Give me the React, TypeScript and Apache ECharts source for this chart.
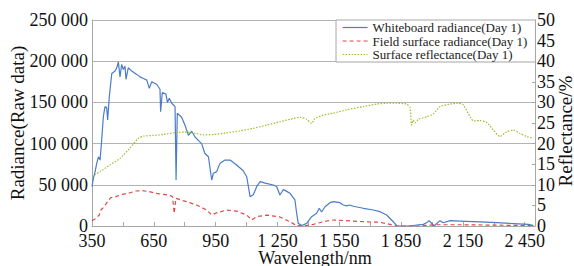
import React, { useEffect, useRef } from "react";
import * as echarts from "echarts";

const whiteWl = [350,357,365,373,381,389,397,405,413,421,426,434,446,462,470,478,486,494,502,510,515,526,543,567,583,600,616,628,640,656,664,680,683,691,709,716,725,737,753,758,764,785,801,818,834,850,866,882,898,915,931,939,955,971,995,1020,1052,1084,1101,1117,1133,1149,1166,1190,1230,1246,1262,1279,1295,1311,1335,1343,1351,1368,1392,1416,1440,1453,1464,1481,1505,1521,1553,1570,1586,1602,1618,1667,1715,1748,1780,1812,1829,1845,1893,1926,1958,1974,1986,1999,2010,2023,2039,2055,2088,2136,2233,2314,2395,2468,2492];
const whiteVal = [47700,58000,66000,76000,84000,80000,104000,132600,144800,144000,128600,157000,185000,188000,192000,199000,181000,196000,190000,194000,178000,192000,188000,184000,181000,179000,177000,167000,175000,173000,172000,166000,138700,161800,160000,150000,155000,149000,144800,55800,136800,132000,122600,110000,115000,108000,104000,100000,88000,84000,55800,64000,66000,76000,80000,80000,74000,67000,59800,35600,38000,47700,53800,52000,49800,48000,37600,44300,42000,39700,31600,15800,3200,600,3200,11300,15400,21500,17000,23400,28300,29500,28300,25500,24500,25500,24000,21500,19400,17400,13300,5200,300,0,0,1200,2000,4000,6500,3000,0,3000,6500,4000,6500,6000,5000,4000,3000,2000,500];

const fieldWl = [350,369,385,393,409,425,441,466,498,531,563,595,628,660,692,725,741,749,757,781,809,858,906,931,955,1003,1052,1101,1125,1149,1198,1262,1311,1343,1376,1424,1473,1513,1586,1667,1748,1796,1829,1926,1958,2023,2152,2314,2492];
const fieldVal = [6400,9300,13300,19400,23400,29500,34300,35600,38400,40000,42500,42900,41700,39700,38400,37600,35600,15400,33600,31600,29500,25500,19400,13300,16000,19400,18000,13300,7300,11300,13300,11000,5200,500,0,2000,5200,7300,6500,5200,4500,2000,0,0,500,1500,1500,1000,500];

const reflWl = [350,389,437,486,534,575,599,648,696,761,809,842,890,939,1003,1068,1133,1198,1262,1311,1359,1392,1416,1432,1473,1521,1586,1667,1732,1780,1829,1877,1893,1901,1909,1918,1934,1974,2007,2039,2088,2128,2152,2185,2201,2233,2266,2298,2330,2363,2395,2427,2460,2492];
const reflVal = [12.0,13.2,14.8,16.4,18.9,21.3,21.8,22.0,22.2,22.7,22.8,22.6,22.1,22.2,22.6,23.1,23.7,24.5,25.3,25.9,26.4,25.9,24.9,26.1,26.9,27.4,28.2,29.0,29.6,29.8,29.8,29.6,28.8,24.5,25.7,25.0,25.9,26.5,27.2,29.0,29.6,29.8,29.4,26.5,25.5,25.6,25.1,23.3,21.7,22.9,23.3,22.5,21.7,21.3];

const xLabels = [350, 650, 950, 1250, 1550, 1850, 2150, 2450];
const seriesNames = ["Whiteboard radiance(Day 1)", "Field surface radiance(Day 1)", "Surface reflectance(Day 1)"];

const FONT = "Liberation Serif";
const AXIS_GRAY = "#a6a6a6";
const BLUE = "#4a7cc7";
const RED = "#e04848";
const GREEN = "#9cbd2c";

const fmt = (v: number) => String(v).replace(/\B(?=(\d{3})+(?!\d))/g, " ");
const pairs = (xs: number[], ys: number[]) => xs.map((x, i) => [x, ys[i]]);

export default function App() {
  const ref = useRef<HTMLDivElement>(null);
  useEffect(() => {
    if (!ref.current) return;
    const chart = echarts.init(ref.current, null, { renderer: "svg" });
    const lineStyles = [
      { color: BLUE, width: 1.2, type: "solid" },
      { color: RED, width: 1.2, type: [4, 3] },
      { color: GREEN, width: 1.2, type: [1.5, 1.5] },
    ];
    chart.setOption({
      animation: false,
      backgroundColor: "#ffffff",
      grid: { left: 92, right: 39, top: 20, bottom: 40 },
      legend: {
        orient: "vertical",
        left: 336,
        top: 20,
        padding: [1, 8, 1, 6],
        itemGap: 0.5,
        itemWidth: 25,
        itemHeight: 13,
        itemTextGap: 5,
        backgroundColor: "#ffffff",
        borderColor: AXIS_GRAY,
        borderWidth: 1,
        borderRadius: 0,
        itemStyle: { opacity: 0 },
        textStyle: { fontFamily: FONT, fontSize: 13, color: "#222", lineHeight: 13 },
        data: seriesNames.map((n, i) => ({ name: n, textStyle: { fontFamily: FONT, fontSize: 13, color: "#222" }, lineStyle: lineStyles[i] })),
      },
      xAxis: {
        type: "value",
        min: 350,
        max: 2500,
        interval: 150,
        axisLine: { show: true, lineStyle: { color: AXIS_GRAY, width: 1 } },
        axisTick: { show: true, inside: true, length: 4, lineStyle: { color: AXIS_GRAY } },
        splitLine: { show: false },
        axisLabel: {
          fontFamily: FONT,
          fontSize: 18,
          color: "#111",
          margin: 6,
          formatter: (v: number) => (xLabels.indexOf(v) >= 0 ? fmt(v) : ""),
        },
      },
      yAxis: [
        {
          type: "value",
          min: 0,
          max: 250000,
          interval: 50000,
          axisLine: { show: true, lineStyle: { color: AXIS_GRAY } },
          axisTick: { show: false },
          splitLine: { show: true, lineStyle: { color: "#b4b4b4", width: 1 } },
          axisLabel: { fontFamily: FONT, fontSize: 18, color: "#111", margin: 4, formatter: (v: number) => fmt(v) },
        },
        {
          type: "value",
          min: 0,
          max: 50,
          interval: 5,
          position: "right",
          axisLine: { show: true, lineStyle: { color: AXIS_GRAY } },
          axisTick: { show: true, inside: true, length: 3, lineStyle: { color: AXIS_GRAY } },
          splitLine: { show: false },
          axisLabel: { fontFamily: FONT, fontSize: 18, color: "#111", margin: 2 },
        },
      ],
      graphic: [
        {
          type: "text",
          x: 17,
          y: 123,
          rotation: Math.PI / 2,
          style: { text: "Radiance(Raw data)", fontFamily: FONT, fontSize: 19, fill: "#111", align: "center", verticalAlign: "middle" },
        },
        {
          type: "text",
          x: 565,
          y: 131,
          rotation: Math.PI / 2,
          style: { text: "Reflectance/%", fontFamily: FONT, fontSize: 19, fill: "#111", align: "center", verticalAlign: "middle" },
        },
        {
          type: "text",
          x: 315,
          y: 258,
          style: { text: "Wavelength/nm", fontFamily: FONT, fontSize: 18, fill: "#111", align: "center", verticalAlign: "middle" },
        },
      ],
      series: [
        {
          name: seriesNames[0],
          type: "line",
          yAxisIndex: 0,
          showSymbol: false,
          symbol: "none",
          data: pairs(whiteWl, whiteVal),
          lineStyle: lineStyles[0],
          itemStyle: { color: BLUE },
        },
        {
          name: seriesNames[1],
          type: "line",
          yAxisIndex: 0,
          showSymbol: false,
          symbol: "none",
          data: pairs(fieldWl, fieldVal),
          lineStyle: lineStyles[1],
          itemStyle: { color: RED },
        },
        {
          name: seriesNames[2],
          type: "line",
          yAxisIndex: 1,
          showSymbol: false,
          symbol: "none",
          smooth: 0.2,
          data: pairs(reflWl, reflVal),
          lineStyle: lineStyles[2],
          itemStyle: { color: GREEN },
        },
      ],
    });
    return () => chart.dispose();
  }, []);
  return <div ref={ref} style={{ position: "fixed", left: 0, top: 0, width: 574, height: 266 }} />;
}
